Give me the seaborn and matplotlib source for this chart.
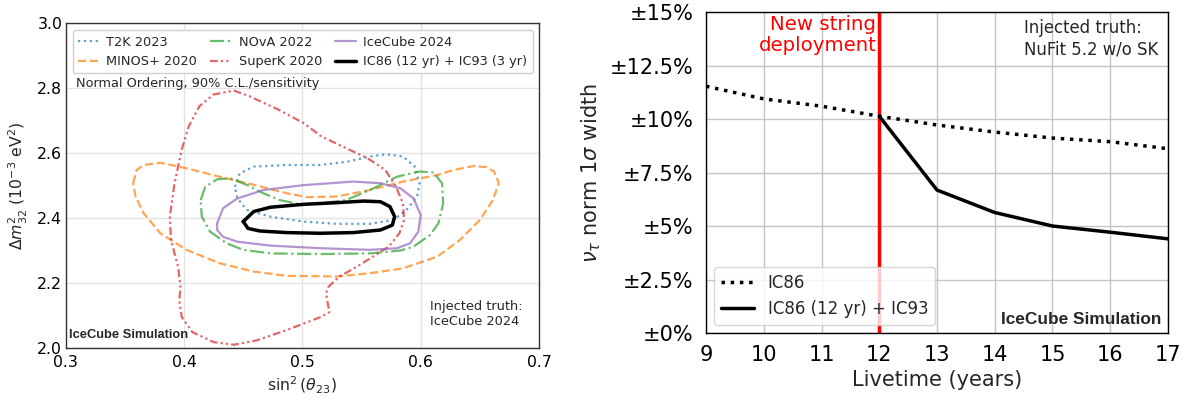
import numpy as np
import matplotlib
matplotlib.use("Agg")
import matplotlib.pyplot as plt
import seaborn as sns

sns.set_style("white")
plt.rcParams['font.family'] = ['DejaVu Sans']

# ---------------- Left panel data: 90% C.L. contours ----------------
t2k_x = [0.443, 0.447, 0.459, 0.487, 0.515, 0.538, 0.557, 0.571, 0.585, 0.595, 0.599, 0.597,
         0.588, 0.577, 0.557, 0.529, 0.501, 0.473, 0.453, 0.445]
t2k_y = [2.497, 2.538, 2.559, 2.564, 2.564, 2.574, 2.590, 2.597, 2.590, 2.559, 2.508, 2.467,
         2.426, 2.395, 2.383, 2.383, 2.390, 2.405, 2.426, 2.462]

minos_x = [0.357, 0.360, 0.366, 0.380, 0.402, 0.430, 0.459, 0.487, 0.504, 0.529, 0.557, 0.585,
           0.614, 0.628, 0.645, 0.656, 0.662, 0.666, 0.661, 0.650, 0.633, 0.614, 0.585, 0.557,
           0.529, 0.487, 0.459, 0.430, 0.402, 0.380, 0.366, 0.359]
minos_y = [2.508, 2.549, 2.564, 2.571, 2.554, 2.528, 2.503, 2.477, 2.465, 2.467, 2.487, 2.513,
           2.533, 2.549, 2.561, 2.557, 2.544, 2.508, 2.456, 2.395, 2.333, 2.282, 2.246, 2.231,
           2.221, 2.223, 2.236, 2.262, 2.303, 2.354, 2.415, 2.467]

nova_x = [0.414, 0.418, 0.428, 0.439, 0.453, 0.467, 0.481, 0.498, 0.515, 0.537, 0.560, 0.580,
          0.599, 0.611, 0.618, 0.619, 0.615, 0.608, 0.594, 0.583, 0.557, 0.515, 0.473, 0.450,
          0.436, 0.422, 0.415]
nova_y = [2.456, 2.497, 2.520, 2.523, 2.503, 2.477, 2.456, 2.443, 2.446, 2.456, 2.492, 2.528,
          2.544, 2.541, 2.508, 2.446, 2.385, 2.349, 2.313, 2.301, 2.292, 2.290, 2.292, 2.303,
          2.323, 2.359, 2.405]

superk_x = [0.442, 0.455, 0.480, 0.501, 0.516, 0.534, 0.555, 0.570, 0.579, 0.585, 0.586, 0.582,
            0.573, 0.564, 0.546, 0.531, 0.522, 0.520, 0.522, 0.523, 0.516, 0.501, 0.486, 0.461,
            0.442, 0.425, 0.407, 0.398, 0.396, 0.397, 0.395, 0.389, 0.388, 0.392, 0.398, 0.404,
            0.413, 0.425]
superk_y = [2.793, 2.776, 2.734, 2.693, 2.652, 2.621, 2.585, 2.549, 2.498, 2.446, 2.395, 2.354,
            2.313, 2.292, 2.251, 2.220, 2.189, 2.169, 2.127, 2.112, 2.097, 2.076, 2.055, 2.024,
            2.011, 2.019, 2.050, 2.097, 2.148, 2.189, 2.251, 2.333, 2.405, 2.508, 2.611, 2.683,
            2.745, 2.781]

ic2024_x = [0.428, 0.433, 0.445, 0.467, 0.501, 0.543, 0.566, 0.583, 0.594, 0.600, 0.598, 0.591,
            0.580, 0.557, 0.515, 0.473, 0.445, 0.433, 0.428]
ic2024_y = [2.385, 2.431, 2.461, 2.487, 2.502, 2.513, 2.508, 2.492, 2.461, 2.410, 2.359, 2.323,
            2.308, 2.303, 2.308, 2.316, 2.328, 2.343, 2.364]

ic93_x = [0.450, 0.459, 0.473, 0.501, 0.529, 0.552, 0.566, 0.574, 0.578, 0.576, 0.566, 0.543,
          0.515, 0.487, 0.464, 0.454, 0.451]
ic93_y = [2.390, 2.421, 2.434, 2.443, 2.448, 2.453, 2.451, 2.436, 2.405, 2.379, 2.364, 2.356,
          2.354, 2.356, 2.361, 2.369, 2.385]

contour_labels = ["T2K 2023", "MINOS+ 2020", "NOvA 2022", "SuperK 2020",
                  "IceCube 2024", "IC86 (12 yr) + IC93 (3 yr)"]

# ---------------- Right panel data ----------------
years = [9, 10, 11, 12, 13, 14, 15, 16, 17]
ic86_width = [11.53, 10.94, 10.60, 10.13, 9.72, 9.39, 9.11, 8.94, 8.61]
years_ic93 = [12, 13, 14, 15, 16, 17]
ic93_width = [10.13, 6.68, 5.63, 5.00, 4.71, 4.40]
deploy_year = 12
right_yticks = [0, 2.5, 5, 7.5, 10, 12.5, 15]
right_yticklabels = ["±0%", "±2.5%", "±5%", "±7.5%", "±10%", "±12.5%", "±15%"]
right_xticks = [9, 10, 11, 12, 13, 14, 15, 16, 17]

fig = plt.figure(figsize=(11.86, 4.03), dpi=100)
axL = fig.add_axes([0.0554, 0.1357, 0.3991, 0.8065])
axR = fig.add_axes([0.5953, 0.1737, 0.3895, 0.7965])

# ---------------- Left panel ----------------
def closed(a):
    return np.r_[a, a[0]]

styles = [
    (t2k_x, t2k_y, "tab:blue", ":", 1.6, 0.7),
    (minos_x, minos_y, "tab:orange", "--", 1.6, 0.7),
    (nova_x, nova_y, "tab:green", "-.", 1.6, 0.7),
    (superk_x, superk_y, "tab:red", (0, (3.5, 1.4, 1, 1.4, 1, 1.4)), 1.6, 0.7),
    (ic2024_x, ic2024_y, "tab:purple", "-", 1.6, 0.7),
    (ic93_x, ic93_y, "black", "-", 2.5, 1.0),
]
for (xs, ys, c, ls, lw, al), lab in zip(styles, contour_labels):
    sns.lineplot(x=closed(xs), y=closed(ys), sort=False, estimator=None, ax=axL,
                 color=c, linestyle=ls, linewidth=lw, alpha=al, label=lab)

axL.set_xlim(0.3, 0.7)
axL.set_ylim(2.0, 3.0)
axL.set_xticks([0.3, 0.4, 0.5, 0.6, 0.7])
axL.set_yticks([2.0, 2.2, 2.4, 2.6, 2.8, 3.0])
axL.set_xticks(np.arange(0.3, 0.7001, 0.02), minor=True)
axL.set_yticks(np.arange(2.0, 3.0001, 0.1), minor=True)
axL.grid(True, which="major", color="#e3e3e3", linewidth=1.0)
axL.tick_params(which="both", direction="in", colors="#333333", labelcolor="black",
                labelsize=11.3, top=False, right=False)
axL.tick_params(which="major", length=5, width=1)
axL.tick_params(which="minor", length=3, width=0.8)
axL.tick_params(axis="x", which="major", pad=5)
axL.tick_params(axis="y", which="major", pad=2.5)
for s in axL.spines.values():
    s.set_color("#333333")
    s.set_linewidth(1.0)
axL.set_xlabel(r"$\sin^2(\theta_{23})$", fontsize=11.3, labelpad=3)
axL.set_ylabel(r"$\Delta m^2_{32}$ $(10^{-3}$ eV$^2)$", fontsize=11.3, labelpad=5)
axL.legend(loc="upper left", bbox_to_anchor=(0.015, 0.978), borderaxespad=0, ncol=3,
           fontsize=9.3, handlelength=1.6, handletextpad=0.6, columnspacing=1.0,
           frameon=True, edgecolor="#d0d0d0", framealpha=1.0)
axL.text(0.022, 0.816, "Normal Ordering, 90% C.L./sensitivity", transform=axL.transAxes,
         fontsize=9.3, ha="left", va="center")
axL.text(0.008, 0.041, "IceCube Simulation", transform=axL.transAxes, fontsize=9.3,
         fontweight="bold", family="Liberation Sans", ha="left", va="center")
axL.text(0.770, 0.105, "Injected truth:\nIceCube 2024", transform=axL.transAxes,
         fontsize=9.3, ha="left", va="center", linespacing=1.2)

# ---------------- Right panel ----------------
sns.lineplot(x=years, y=ic86_width, ax=axR, color="black", linestyle=":", linewidth=2.5,
             label="IC86")
sns.lineplot(x=years_ic93, y=ic93_width, ax=axR, color="black", linestyle="-", linewidth=2.5,
             label="IC86 (12 yr) + IC93")
axR.axvline(deploy_year, color="red", linewidth=2.5, zorder=1.5)
axR.set_xlim(9, 17)
axR.set_ylim(0, 15)
axR.set_xticks(right_xticks)
axR.set_yticks(right_yticks)
axR.set_yticklabels(right_yticklabels)
axR.grid(True, color="#c4c4c4", linewidth=1.0)
axR.tick_params(direction="out", length=4.5, width=1, labelsize=15, pad=4.5, colors="black")
for s in axR.spines.values():
    s.set_color("black")
    s.set_linewidth(1.0)
axR.set_xlabel("Livetime (years)", fontsize=15, labelpad=3)
axR.set_ylabel(r"$\nu_\tau$ norm $1\sigma$ width", fontsize=15, labelpad=5)
axR.legend(loc="lower left", fontsize=12, handlelength=2.0)
axR.text(11.95, 14.85, "New string\ndeployment", color="red", fontsize=14.2, ha="right",
         va="top", linespacing=1.1)
axR.text(14.5, 14.65, "Injected truth:\nNuFit 5.2 w/o SK", fontsize=11.9, ha="left",
         va="top", linespacing=1.2)
axR.text(16.88, 0.62, "IceCube Simulation", fontsize=12.4, fontweight="bold",
         family="Liberation Sans", ha="right", va="center")

fig.savefig("out.png", dpi=100)
